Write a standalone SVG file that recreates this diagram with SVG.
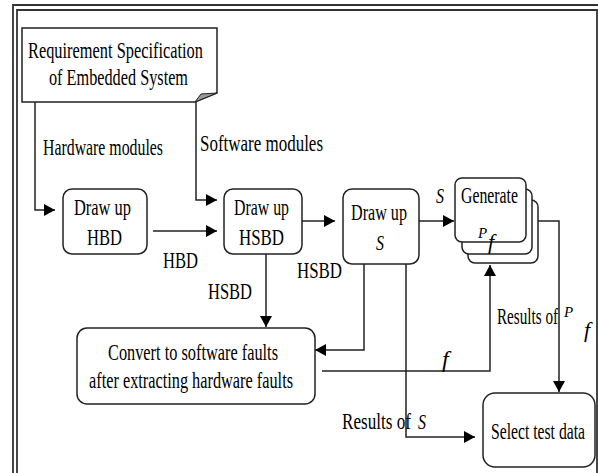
<svg xmlns="http://www.w3.org/2000/svg" width="598" height="473" viewBox="0 0 598 473">
<style>
.t{font-family:"Liberation Serif","Times New Roman",serif;font-size:24px;fill:#000}
.i{font-family:"Liberation Serif","Times New Roman",serif;font-style:italic;font-size:21px;fill:#000}
.box{fill:#fff;stroke:#222;stroke-width:1.5}
.c{fill:none;stroke:#222;stroke-width:1.5}
.fr{fill:none;stroke:#333;stroke-width:1.8}
</style>
<defs>
<marker id="a" markerUnits="userSpaceOnUse" markerWidth="11" markerHeight="12" viewBox="0 0 11 12" refX="11" refY="6" orient="auto"><path d="M0,0 L11,6 L0,12 Z" fill="#000"/></marker>
</defs>
<rect width="598" height="473" fill="#fff"/>
<g id="frame">
<path class="fr" d="M13,473 V5 H598"/>
<path class="fr" d="M17,473 V10 H597 V473"/>
</g>
<g id="connectors">
<path class="c" d="M35,102 V210 H55" marker-end="url(#a)"/>
<path class="c" d="M196,102 V200 H217" marker-end="url(#a)"/>
<path class="c" d="M153,231 H217" marker-end="url(#a)"/>
<path class="c" d="M302,221 H335" marker-end="url(#a)"/>
<path class="c" d="M419,221 H454" marker-end="url(#a)"/>
<path class="c" d="M266,254 V327" marker-end="url(#a)"/>
<path class="c" d="M364,264 V350 H315" marker-end="url(#a)"/>
<path class="c" d="M406,264 V437 H475" marker-end="url(#a)"/>
<path class="c" d="M322,371 H490 V265" marker-end="url(#a)"/>
<path class="c" d="M538,221 H559 V392" marker-end="url(#a)"/>
</g>
<g id="req">
<path class="box" d="M22,28 H217 V93 L195,102 H22 Z"/>
<path d="M195,102 L201,94 L217,93 Z" fill="#999" stroke="#222" stroke-width="1"/>
<text class="t" x="28" y="58" textLength="175" lengthAdjust="spacingAndGlyphs">Requirement Specification</text>
<text class="t" x="49" y="85" textLength="139" lengthAdjust="spacingAndGlyphs">of Embedded System</text>
</g>
<g id="hbd">
<rect class="box" x="63" y="189" width="84" height="65" rx="9"/>
<text class="t" x="74" y="215" textLength="57" lengthAdjust="spacingAndGlyphs">Draw up</text>
<text class="t" x="87" y="245" textLength="35" lengthAdjust="spacingAndGlyphs">HBD</text>
</g>
<g id="hsbd">
<rect class="box" x="224" y="189" width="78" height="65" rx="9"/>
<text class="t" x="234" y="215" textLength="55" lengthAdjust="spacingAndGlyphs">Draw up</text>
<text class="t" x="239" y="245" textLength="45" lengthAdjust="spacingAndGlyphs">HSBD</text>
</g>
<g id="drawS">
<rect class="box" x="343" y="189" width="76" height="75" rx="9"/>
<text class="t" x="351" y="220" textLength="56" lengthAdjust="spacingAndGlyphs">Draw up</text>
<text class="i" x="376" y="250" textLength="8" lengthAdjust="spacingAndGlyphs">S</text>
</g>
<g id="generate">
<rect class="box" x="468" y="200" width="70" height="63" rx="7"/>
<rect class="box" x="462" y="189" width="70" height="65" rx="7"/>
<rect class="box" x="455" y="178" width="71" height="64" rx="7"/>
<text class="t" x="461" y="203" textLength="57" lengthAdjust="spacingAndGlyphs">Generate</text>
<text class="i" x="478" y="238" style="font-size:15px">P</text>
<text class="i" x="488" y="249" style="font-size:22px">f</text>
</g>
<g id="convert">
<rect class="box" x="77" y="328" width="238" height="76" rx="10"/>
<text class="t" x="108" y="360" textLength="170" lengthAdjust="spacingAndGlyphs">Convert to software faults</text>
<text class="t" x="89" y="388" textLength="204" lengthAdjust="spacingAndGlyphs">after extracting hardware faults</text>
</g>
<g id="select">
<rect class="box" x="483" y="393" width="112" height="74" rx="12"/>
<text class="t" x="491" y="439" textLength="94" lengthAdjust="spacingAndGlyphs">Select test data</text>
</g>
<g id="labels">
<text class="t" x="43" y="155" textLength="120" lengthAdjust="spacingAndGlyphs">Hardware modules</text>
<text class="t" x="200" y="151" textLength="123" lengthAdjust="spacingAndGlyphs">Software modules</text>
<text class="t" x="163" y="268" textLength="35" lengthAdjust="spacingAndGlyphs">HBD</text>
<text class="t" x="208" y="299" textLength="44" lengthAdjust="spacingAndGlyphs">HSBD</text>
<text class="t" x="297" y="278" textLength="45" lengthAdjust="spacingAndGlyphs">HSBD</text>
<text class="i" x="436" y="203" textLength="8" lengthAdjust="spacingAndGlyphs">S</text>
<text class="t" x="497" y="324" textLength="61" lengthAdjust="spacingAndGlyphs">Results of</text>
<text class="i" x="564" y="317" style="font-size:15px">P</text>
<text class="i" x="584" y="337" style="font-size:22px">f</text>
<text class="i" x="442" y="367" style="font-size:24px">f</text>
<text class="t" x="342" y="429" textLength="69" lengthAdjust="spacingAndGlyphs">Results of</text>
<text class="i" x="418" y="429" textLength="8" lengthAdjust="spacingAndGlyphs">S</text>
</g>
</svg>
